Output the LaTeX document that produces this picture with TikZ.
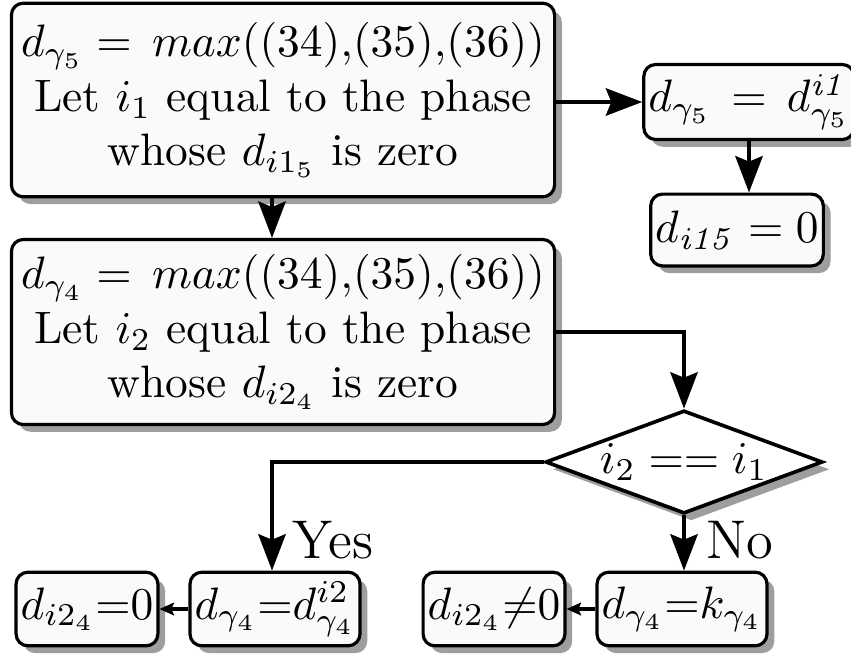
\documentclass[tikz,border=0pt]{standalone}
\usetikzlibrary{shapes.geometric,arrows.meta,shadows,calc}
\begin{document}
\begin{tikzpicture}[x=0.22pt,y=-0.22pt,
  box/.style={draw, line width=0.7pt, rounded corners=2.6pt, fill=black!2,
    drop shadow={shadow xshift=1.6pt,shadow yshift=-1.6pt,fill=black!38,opacity=1},
    inner sep=1pt, align=center},
  dec/.style={draw, line width=0.8pt, shape=diamond, aspect=2.7, fill=white,
    drop shadow={shadow xshift=1.6pt,shadow yshift=-1.6pt,fill=black!38,opacity=1},
    inner sep=0pt},
  arr/.style={line width=0.9pt, -{Stealth[length=8pt,width=6pt,inset=1.2pt]}},
  sarr/.style={line width=0.9pt, -{Stealth[length=3.2pt,width=2.8pt,inset=0.6pt]}},
  lbl/.style={font=\large, inner sep=0pt}]
\useasboundingbox (0,0) rectangle (851,659);

\node[box, minimum width=119.5pt, minimum height=42.6pt] (b1) at (283,100)
  {$d_{\gamma_5} = \,max((34){,}(35){,}(36))$\\ Let $i_1$ equal to the phase\\ whose $d_{i1_5}$ is zero};
\node[box, minimum width=119.5pt, minimum height=40.7pt] (b2) at (283,332)
  {$d_{\gamma_4} = \,max((34){,}(35){,}(36))$\\ Let $i_2$ equal to the phase\\ whose $d_{i2_4}$ is zero};
\node[box, minimum width=42.5pt, minimum height=16.5pt] (b3) at (749,102)
  {$d_{\gamma_5} \,=\, d^{\mathit{i1}}_{\gamma_5}$};
\node[box, minimum width=34.8pt, minimum height=15.8pt] (b4) at (737,230)
  {$d_{\mathit{i15}} = 0$};
\node[dec, minimum width=61pt, minimum height=22.7pt] (d) at (684,462)
  {$i_2 == i_1$};
\node[box, minimum width=37pt, minimum height=16.2pt] (b5) at (275,609)
  {$d_{\gamma_4}{=}d^{i2}_{\gamma_4}$};
\node[box, minimum width=30.8pt, minimum height=16.2pt] (b6) at (87,609)
  {$d_{i2_4}{=}0$};
\node[box, minimum width=35.4pt, minimum height=16.2pt] (b7) at (682,609)
  {$d_{\gamma_4}{=}k_{\gamma_4}$};
\node[box, minimum width=31.2pt, minimum height=16.2pt] (b8) at (494,609)
  {$d_{i2_4}{\neq}0$};

\node[lbl] (yes) at (333,540) {Yes};
\node[lbl] (no) at (740,540) {No};

\draw[arr] ($(b1.south)+(-11,0)$) -- ($(b2.north)+(-11,0)$);
\draw[arr] (b1.east |- b3.west) -- (b3.west);
\draw[arr] (b3.south) -- (b3.south |- b4.north);
\draw[arr] (b2.east) -| (d.north);
\draw[arr] (d.west) -| ($(b5.north)+(-3,0)$);
\draw[arr] (d.south) -- (d.south |- b7.north);
\draw[sarr] (b5.west) -- (b6.east);
\draw[sarr] (b7.west) -- (b8.east);
\end{tikzpicture}
\end{document}
